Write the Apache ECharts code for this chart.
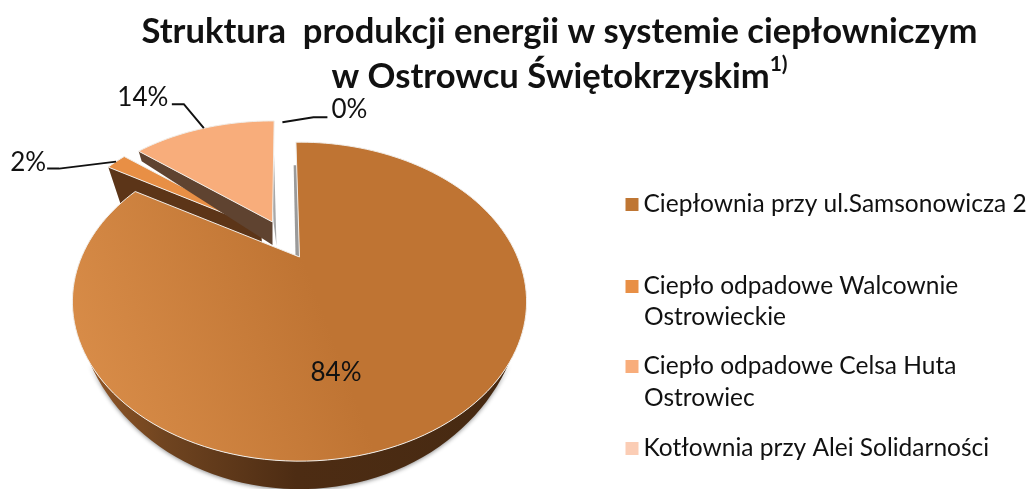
<!DOCTYPE html>
<html>
<head>
<meta charset="utf-8">
<title>Struktura produkcji energii</title>
<script src="https://cdn.jsdelivr.net/npm/echarts@6/dist/echarts.min.js"></script>
<style>
  html, body { margin: 0; padding: 0; background: #fff; }
  #chart { width: 1030px; height: 489px; }
</style>
</head>
<body>
<div id="chart"></div>
<script>
const categories = ['Ciepłownia przy ul.Samsonowicza 2', 'Ciepło odpadowe Walcownie', 'Ciepło odpadowe Celsa Huta', 'Kotłownia przy Alei Solidarności']
const secondLines = ['', 'Ostrowieckie', 'Ostrowiec', '']
const shares = [84, 2, 14, 0.2]
const legendColors = ['#BF7633', '#E88F45', '#F8AD7B', '#FBCDB5']

const font = 'Lato, Carlito, sans-serif'
const total = shares.reduce((a, b) => a + b, 0)
const startTurn = -1.2 // stopnie
const rimColor = '#f1ede8'

// rzut perspektywiczny kola: r, b, k dobrane do elipsy z obrazka
const R = 218
const B = 147
const K = 0.28

function project(deg, g) {
  const a = deg * Math.PI / 180
  const u = Math.sin(a)
  const v = -Math.cos(a)
  const w = 1 - K * v
  return [g.x + (g.sx || 1) * g.s * R * u / w, g.y + g.s * B * v / w, v]
}

function arc(from, to, g) {
  const pts = []
  const n = Math.max(2, Math.ceil(Math.abs(to - from) / 2))
  for (let i = 0; i <= n; i++) pts.push(project(from + (to - from) * i / n, g))
  return pts
}

function poly(points, fill, extra) {
  return Object.assign({
    type: 'polygon',
    shape: { points: points.map(p => [p[0], p[1]]) },
    style: { fill: fill }
  }, extra || {})
}

function line(points) {
  return {
    type: 'polyline',
    shape: { points: points },
    style: { fill: 'none', stroke: '#111', lineWidth: 2 }
  }
}

function pctText(x, y, text) {
  return {
    type: 'text',
    x: x,
    y: y,
    style: { text: text, fill: '#111', font: '26px ' + font, align: 'center', verticalAlign: 'middle' }
  }
}

function gradient(x, y, x2, y2, stops) {
  return {
    type: 'linear', global: true, x: x, y: y, x2: x2, y2: y2,
    colorStops: stops.map(s => ({ offset: s[0], color: s[1] }))
  }
}

const renderers = [
  // glowny wycinek
  function (from, to, label) {
    const g = { x: 299.5, y: 257, s: 1 }
    const top = [[g.x, g.y]].concat(arc(from, to, g))
    // sciana: tylko dolna czesc luku, dolna krawedz schodzi o glebokosc
    const lower = arc(125, 235, g)
    const wall = lower.concat(lower.slice().reverse().map(p => [p[0], p[1] + 28 * Math.max(0, (p[2] - 0.6) / 0.4)]))
    const startEdge = project(from, { x: g.x, y: g.y, s: 0.8 })
    const wallFill = gradient(92, 0, 500, 0, [[0, '#8f5526'], [0.18, '#6f4420'], [0.5, '#4d2c13'], [1, '#472a12']])
    const topFill = gradient(90, 420, 330, 330, [[0, '#D98D49'], [1, '#BF7433']])
    return [
      poly(wall, wallFill, {
        style: { fill: wallFill, shadowBlur: 4, shadowColor: 'rgba(0,0,0,0.45)', shadowOffsetY: 1 }
      }),
      poly([[g.x - 4, g.y - 2], [startEdge[0] - 3, startEdge[1]], [startEdge[0], startEdge[1]], [g.x, g.y]], '#9a9a9a'),
      poly(top, topFill, { style: { fill: topFill, stroke: rimColor, lineWidth: 1 } }),
      pctText(336, 373, label)
    ]
  },
  // 2%
  function (from, to, label) {
    const g = { x: 261, y: 228, s: 0.93 }
    const outer = arc(from, to, g)
    const first = outer[0]
    const mid = project((from + to) / 2, g)
    return [
      poly([[g.x, g.y], first, [first[0] + 12, first[1] + 36], [g.x + 1, g.y + 16]], '#5C3518'),
      poly([[g.x, g.y]].concat(outer), '#E88F45', { style: { fill: '#E88F45', stroke: rimColor, lineWidth: 1 } }),
      line([[mid[0], mid[1]], [mid[0] - 57, mid[1] + 7], [mid[0] - 69, mid[1] + 7]]),
      pctText(mid[0] - 88, mid[1] + 1, label)
    ]
  },
  // 14%
  function (from, to, label) {
    const turn = 2.5
    const g = { x: 272.5, y: 222, s: 0.88, sx: 1.08 }
    const outer = arc(from + turn, to + turn, g)
    const first = outer[0]
    const mid = project((from + to) / 2 + turn, g)
    const endEdge = project(to, { x: g.x + 2, y: g.y + 23, s: 0.78 })
    return [
      poly([[g.x, g.y], first, [first[0] + 3, first[1] + 10], [g.x, g.y + 23]], '#5F4330'),
      poly([[g.x + 1, g.y], [endEdge[0] + 1, endEdge[1]], [endEdge[0] + 4, endEdge[1]], [g.x + 4, g.y + 24]], '#a8a8a8'),
      poly([[g.x, g.y]].concat(outer), '#F8AD7B', { style: { fill: '#F8AD7B', stroke: rimColor, lineWidth: 1 } }),
      line([[mid[0], mid[1]], [mid[0] - 20, mid[1] - 24], [mid[0] - 32, mid[1] - 24]]),
      pctText(mid[0] - 61, mid[1] - 31, label)
    ]
  },
  // 0%
  function (from, to, label) {
    const mid = project((from + to) / 2, { x: 287, y: 236, s: 0.99 })
    return [
      line([[mid[0], mid[1]], [mid[0] + 31, mid[1] - 5], [mid[0] + 45, mid[1] - 5]]),
      pctText(mid[0] + 67, mid[1] - 13, label)
    ]
  }
]

let acc = 0
const starts = shares.map(v => { const s = acc; acc += v; return s })

function sliceSeries(name, i) {
  return {
    type: 'custom',
    name: name,
    coordinateSystem: 'none',
    silent: true,
    animation: false,
    z: i === 0 ? 5 : 2 + i,
    itemStyle: { color: legendColors[i] },
    data: [[shares[i], starts[i]]],
    renderItem: function (params, api) {
      const from = startTurn + api.value(1) / total * 360
      const to = from + api.value(0) / total * 360
      const label = Math.round(api.value(0) / total * 100) + '%'
      return { type: 'group', children: renderers[i](from, to, label) }
    }
  }
}

const legendTops = [187, 269, 349, 431]
const secondLineTops = [0, 318.5, 399.5, 0]

const chart = echarts.init(document.getElementById('chart'))
chart.setOption({
  animation: false,
  backgroundColor: '#fff',
  title: {
    left: 554.5,
    top: 4,
    textAlign: 'center',
    text: '{a|Struktura  produkcji energii w systemie ciepłowniczym}\n{a|w Ostrowcu Świętokrzyskim}{s|1)}',
    textStyle: {
      rich: {
        a: { fontFamily: font, fontWeight: 'bold', fontSize: 34.6, lineHeight: 45, color: '#111' },
        s: { fontFamily: font, fontWeight: 'bold', fontSize: 21, lineHeight: 45, color: '#111', verticalAlign: 'top' }
      }
    }
  },
  legend: categories.map((name, i) => ({
    data: [name],
    left: 620.5,
    top: legendTops[i],
    icon: 'rect',
    itemWidth: 13,
    itemHeight: 13,
    itemGap: 0,
    selectedMode: false,
    padding: 5,
    textStyle: { fontFamily: font, fontSize: 24.5, color: '#111' }
  })),
  graphic: secondLines.map((t, i) => ({
    type: 'text',
    left: 644,
    top: secondLineTops[i] - 14,
    invisible: !t,
    style: { text: t, font: '24.5px ' + font, fill: '#111' }
  })),
  series: categories.map(sliceSeries)
})
</script>
</body>
</html>
